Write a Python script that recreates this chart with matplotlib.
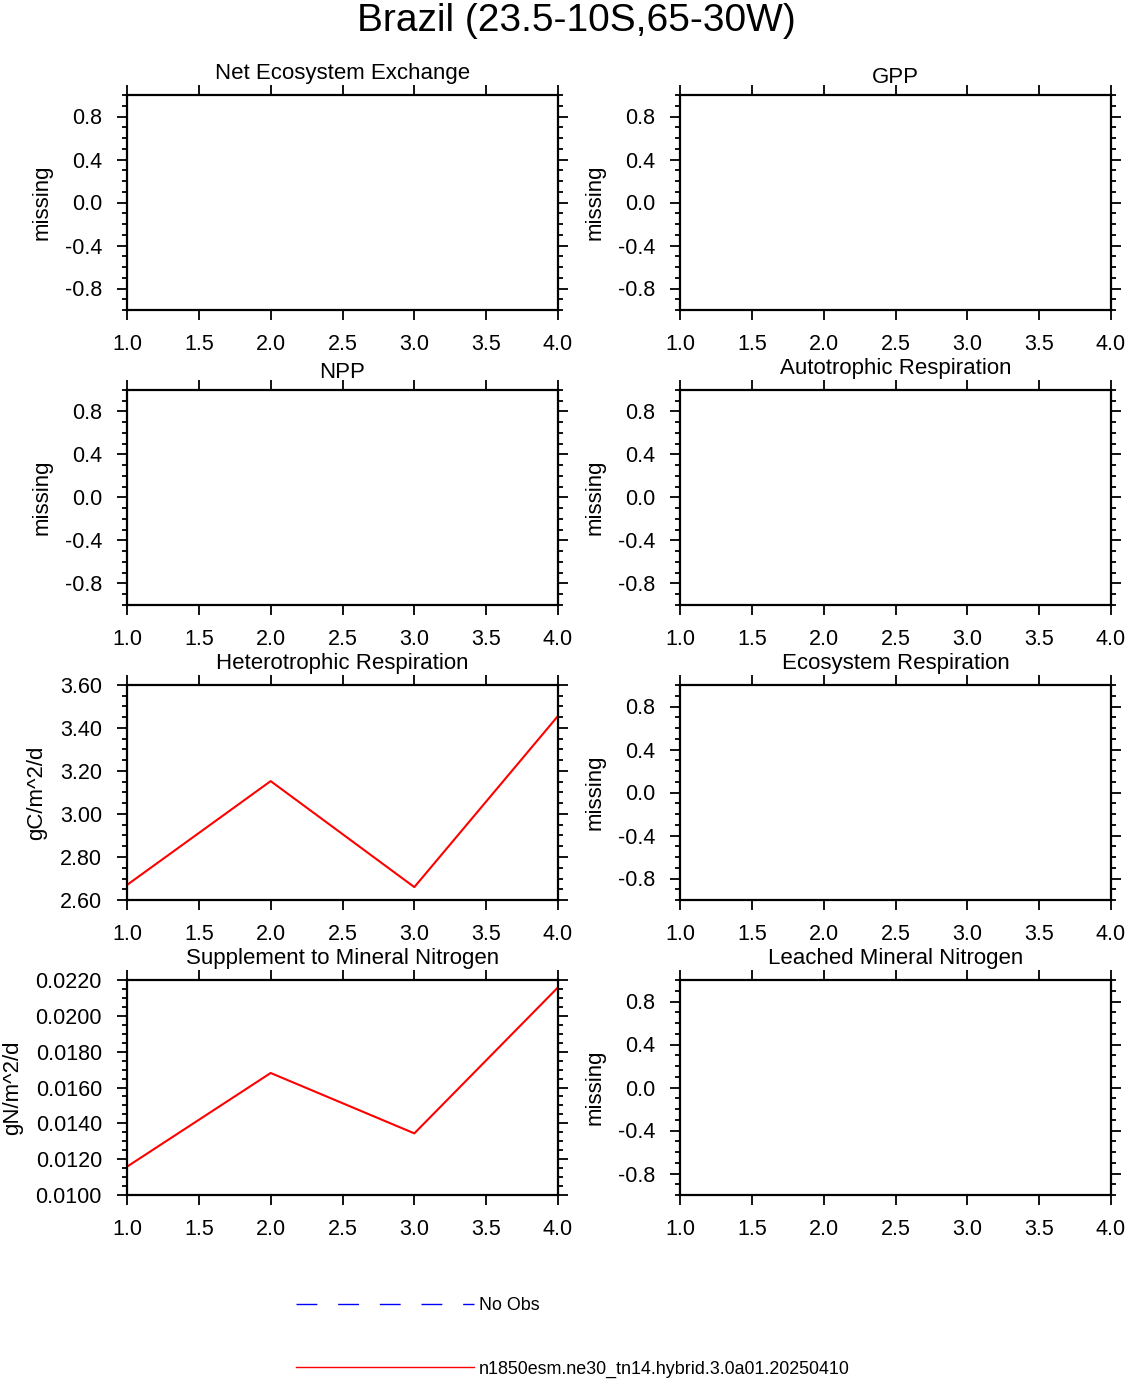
import numpy as np
import matplotlib
matplotlib.use('Agg')
import matplotlib.pyplot as plt
from matplotlib.ticker import MultipleLocator, FormatStrFormatter
from matplotlib.lines import Line2D

plt.rcParams['font.family'] = ['Liberation Sans', 'DejaVu Sans']
plt.rcParams['axes.unicode_minus'] = False

# ---- data ----
years = [1, 2, 3, 4]
het_resp = [2.67, 3.153, 2.66, 3.456]          # gC/m^2/d
sminn_supp = [0.01158, 0.01681, 0.01344, 0.02159]  # gN/m^2/d

titles = ['Net Ecosystem Exchange', 'GPP', 'NPP', 'Autotrophic Respiration',
          'Heterotrophic Respiration', 'Ecosystem Respiration',
          'Supplement to Mineral Nitrogen', 'Leached Mineral Nitrogen']
ylabels = ['missing', 'missing', 'missing', 'missing',
           'gC/m^2/d', 'missing', 'gN/m^2/d', 'missing']
series = [None, None, None, None, het_resp, None, sminn_supp, None]
# ylim, major step, minor step, format
yaxes = [(-1, 1, 0.4, 0.1, '%.1f')] * 4 + \
        [(2.6, 3.6, 0.2, 0.05, '%.2f'), (-1, 1, 0.4, 0.1, '%.1f'),
         (0.010, 0.022, 0.002, 0.0005, '%.4f'), (-1, 1, 0.4, 0.1, '%.1f')]
case_name = 'n1850esm.ne30_tn14.hybrid.3.0a01.20250410'

# ---- figure ----
W, H = 1125, 1380
fig = plt.figure(figsize=(W/100, H/100), dpi=100)

lefts = [127, 680]
tops = [95, 390, 685, 980]
pw, ph = 431, 215

for i in range(8):
    r, c = divmod(i, 2)
    ax = fig.add_axes([lefts[c]/W, 1 - (tops[r]+ph)/H, pw/W, ph/H])
    lo, hi, major, minor, fmt = yaxes[i]
    if series[i] is not None:
        ax.plot(years, series[i], color='red', lw=1.5)
    ax.set_xlim(1, 4)
    ax.set_ylim(lo, hi)
    ax.xaxis.set_major_locator(MultipleLocator(0.5))
    ax.xaxis.set_major_formatter(FormatStrFormatter('%.1f'))
    ax.yaxis.set_major_locator(MultipleLocator(major))
    ax.yaxis.set_minor_locator(MultipleLocator(minor))
    ax.yaxis.set_major_formatter(FormatStrFormatter(fmt))
    if lo == -1:
        ax.set_yticks([-0.8, -0.4, 0.0, 0.4, 0.8])
    ax.tick_params(axis='both', which='both', direction='out',
                   top=True, right=True, labelsize=15.5, width=1.3)
    ax.tick_params(axis='both', which='major', length=7.5)
    ax.tick_params(axis='y', which='minor', length=3.6)
    ax.tick_params(axis='x', pad=10)
    ax.tick_params(axis='y', pad=10.5)
    for sp in ax.spines.values():
        sp.set_linewidth(1.6)
    desc = any(ch in titles[i] for ch in 'gjpqy')
    ax.set_title(titles[i], fontsize=16, pad=11.5 if desc else 8.4)
    ax.set_ylabel(ylabels[i], fontsize=16, labelpad=9)

fig.text(576.5/W, 1 - 31/H, 'Brazil (23.5-10S,65-30W)', fontsize=28,
         ha='center', va='baseline')

handles = [Line2D([], [], color='blue', lw=1, dashes=(15, 15)),
           Line2D([], [], color='red', lw=1)]
fig.legend(handles, ['No Obs', case_name], loc='upper left',
           bbox_to_anchor=(296/W, 1 - 1297/H), frameon=False, fontsize=12.9,
           borderpad=0, borderaxespad=0, handlelength=9.95,
           handletextpad=0.28, labelspacing=2.6)

plt.savefig('out.png', dpi=100)
